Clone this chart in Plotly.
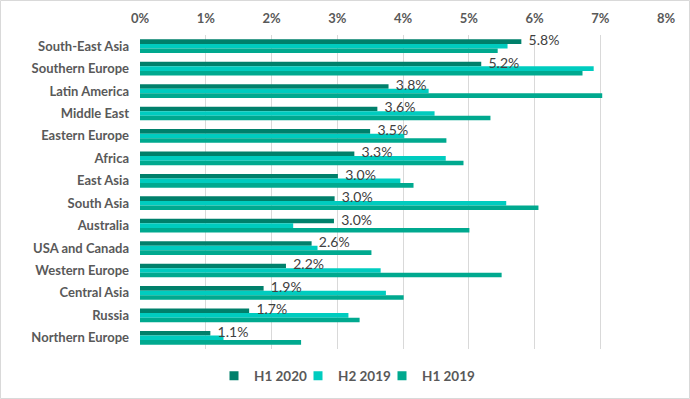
import plotly.graph_objects as go

categories = ["South-East Asia", "Southern Europe", "Latin America", "Middle East",
              "Eastern Europe", "Africa", "East Asia", "South Asia", "Australia",
              "USA and Canada", "Western Europe", "Central Asia", "Russia", "Northern Europe"]
h1_2020 = [5.80, 5.19, 3.78, 3.61, 3.50, 3.26, 3.01, 2.96, 2.95, 2.61, 2.22, 1.88, 1.66, 1.07]
h2_2019 = [5.59, 6.90, 4.39, 4.48, 4.02, 4.65, 3.96, 5.57, 2.33, 2.70, 3.66, 3.74, 3.17, 1.27]
h1_2019 = [5.44, 6.73, 7.03, 5.33, 4.66, 4.92, 4.16, 6.06, 5.01, 3.52, 5.50, 4.01, 3.34, 2.45]
series_names = ["H1 2020", "H2 2019", "H1 2019"]
colors = ["#00806B", "#00CCBF", "#00A98F"]
x_ticks = [0, 1, 2, 3, 4, 5, 6, 7, 8]

FONT = "Lato, Carlito, Calibri, sans-serif"
W, H = 690, 399
L, R, T, B = 140, 24, 35, 50
BARGAP = 0.39

idx = list(range(len(categories)))
fig = go.Figure()
for name, vals, col in zip(series_names, [h1_2020, h2_2019, h1_2019], colors):
    fig.add_trace(go.Bar(y=idx, x=vals, orientation="h", name=name, showlegend=False,
                         marker=dict(color=col, line=dict(width=0)), hoverinfo="skip"))

bar_w = (1 - BARGAP) / 3
fig.add_trace(go.Scatter(
    x=h1_2020, y=[i - bar_w for i in idx], mode="markers+text",
    marker=dict(size=10, opacity=0), text=[f"{v:.1f}%" for v in h1_2020],
    textposition="middle right", textfont=dict(family=FONT, size=14, color="#404040"),
    showlegend=False, hoverinfo="skip", cliponaxis=False))

# legend entries with small square swatches
for name, col in zip(series_names, colors):
    fig.add_trace(go.Scatter(x=[None], y=[None], mode="markers", name=name,
                             marker=dict(symbol="square", size=9, color=col)))
# invisible spacer entry so the last legend text is not clipped
fig.add_trace(go.Scatter(x=[None], y=[None], mode="markers", name=" ",
                         marker=dict(symbol="square", size=9, color="rgba(0,0,0,0)")))

pw, ph = W - L - R, H - T - B
fig.update_layout(
    width=W, height=H, margin=dict(l=L, r=R, t=T, b=B, autoexpand=False),
    barmode="group", bargap=BARGAP, bargroupgap=0,
    paper_bgcolor="white", plot_bgcolor="white",
    font=dict(family=FONT, size=13, color="#595959"),
    xaxis=dict(range=[0, 8], side="top", tickvals=x_ticks, automargin=False,
               ticktext=[f"{t}%" for t in x_ticks], showgrid=True, gridcolor="#D9D9D9",
               gridwidth=1, zeroline=False, showline=False, ticks="",
               ticklabelstandoff=8,
               tickfont=dict(family=FONT, size=13, color="#595959", weight="bold")),
    yaxis=dict(range=[len(categories) - 0.5, -0.5], tickvals=idx, ticktext=categories,
               showgrid=False, zeroline=False, showline=False, ticks="", automargin=False,
               ticklabelstandoff=10,
               tickfont=dict(family=FONT, size=13, color="#595959", weight="bold")),
    legend=dict(orientation="h", x=(214 - L) / pw, xanchor="left",
                y=-(376 - (T + ph)) / ph, yanchor="middle",
                font=dict(family=FONT, size=13.5, color="#595959", weight="bold"),
                traceorder="normal", itemwidth=30, entrywidth=39, entrywidthmode="pixels"),
    shapes=[dict(type="rect", xref="paper", yref="paper",
                 x0=(0.5 - L) / pw, x1=(W - 0.5 - L) / pw,
                 y0=-(B - 0.5) / ph, y1=1 + (T - 0.5) / ph,
                 line=dict(color="#D9D9D9", width=1), fillcolor="rgba(0,0,0,0)", layer="below")],
)
fig.write_html("out.html", config={"displayModeBar": False},
               post_script="document.body.style.margin='0';document.body.style.padding='0';")
